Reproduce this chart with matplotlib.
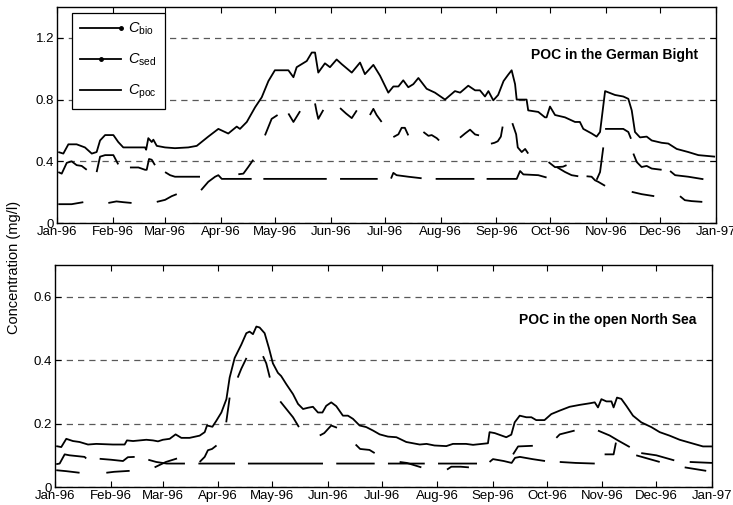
import numpy as np
import matplotlib
matplotlib.use("Agg")
import matplotlib.pyplot as plt
import matplotlib.dates as mdates
from matplotlib.lines import Line2D

plt.rcParams['font.family'] = ['Liberation Sans', 'DejaVu Sans']
plt.rcParams['mathtext.fontset'] = 'custom'
plt.rcParams['mathtext.rm'] = 'Liberation Sans'
plt.rcParams['mathtext.it'] = 'Liberation Sans:italic'

nan = np.nan

# ---- German Bight (day of 1996, mg/l); nan splits the drawn pieces ----
gb_poc_day = [0.7, 3.5, 6.3, 10.9, 15.5, 19.3, 22, 23.9, 26.7, 31.3, 34, 36.8,
              48.9, 49.5, 50.7, 52.6, 53.5, 55.4, 60, 65.5, 72.9, 77.6, 84,
              89.6, 95.1, 99.8, 101.6, 105.4, 110, 113.7, 117.4, 121, 128.5,
              131.3, 133.1, 135.9, 138.7, 141.5, 143.3, 145.1, 148.8, 151.6,
              155.3, 158.1, 163.7, 168.3, 171, 175.7, 179.4, 184, 186.8, 189.6,
              192.3, 195.1, 197.9, 200.7, 205.3, 209.9, 215.5, 221, 223.9,
              228.4, 232.2, 234.9, 237.7, 239.6, 242.3, 245, 248, 250.5, 252.5,
              254.4, 255.3, 260.8, 261.7, 267.3, 271, 271.9, 273.8, 276.6,
              282.1, 287.7, 290.4, 292.3, 297, 299.7, 301.6, 304.4, 309.9,
              314.5, 317.3, 319.2, 321, 323.8, 327.5, 330.3, 335.8, 339.5,
              344.2, 350.6, 356.2, 365.5]
gb_poc = [0.46, 0.45, 0.51, 0.51, 0.49, 0.45, 0.46, 0.535, 0.57, 0.57, 0.525,
          0.49, 0.49, 0.475, 0.55, 0.525, 0.54, 0.50, 0.49, 0.485, 0.49, 0.50,
          0.56, 0.61, 0.58, 0.625, 0.61, 0.655, 0.75, 0.815, 0.92, 0.99, 0.99,
          0.945, 1.01, 1.03, 1.05, 1.105, 1.105, 0.975, 1.035, 1.01, 1.06,
          1.03, 0.975, 1.04, 0.965, 1.025, 0.955, 0.845, 0.885, 0.885, 0.925,
          0.88, 0.90, 0.94, 0.87, 0.845, 0.80, 0.855, 0.845, 0.89, 0.86, 0.86,
          0.82, 0.855, 0.795, 0.83, 0.92, 0.96, 0.99, 0.90, 0.80, 0.80, 0.73,
          0.72, 0.685, 0.685, 0.755, 0.70, 0.685, 0.655, 0.655, 0.61, 0.58,
          0.56, 0.59, 0.855, 0.83, 0.82, 0.805, 0.73, 0.59, 0.555, 0.56,
          0.535, 0.52, 0.515, 0.48, 0.46, 0.44, 0.43]

gb_bio_day = [0.7, 2.6, 5.4, 8.1, 10.9, 13.7, 16.5, nan,
              22, 23.9, 26.7, 31.3, 34, nan,
              40.5, 45.2, 48.9, 49.8, 51.1, 52.6, 54.4, nan,
              60, 62.8, 65.5, 79.4, nan,
              100.7, 103.5, 106.2, 109, nan,
              115.5, 119.2, 122.5, nan,
              128.5, 131.3, 135, nan,
              143.3, 144.2, 145.1, 147.9, nan,
              157.2, 160.5, 163.7, 166.5, nan,
              173.8, 175.7, 177.5, 180.3, nan,
              186.8, 189.6, 191.4, 193.2, 195.1, nan,
              203.5, 206.3, 208.1, 210.9, 212.2, nan,
              223.8, 226.6, 229.4, 232.2, 234.4, nan,
              241, 243, 244.8, 246.5, 247.5, nan,
              252.9, 255, 255.9, 258.1, 260, 261.7, nan,
              277.5, 282.1, 285.8, 289.5, nan,
              294.1, 296.9, 298.8, 300.6, 304.4, nan,
              319.2, 324.7, 331.7, nan,
              346, 348.7, 352.4, 358.4]
gb_bio = [0.33, 0.32, 0.39, 0.40, 0.375, 0.37, 0.345, nan,
          0.33, 0.43, 0.44, 0.44, 0.38, nan,
          0.36, 0.36, 0.345, 0.345, 0.415, 0.41, 0.375, nan,
          0.33, 0.31, 0.30, 0.30, nan,
          0.316, 0.32, 0.363, 0.41, nan,
          0.568, 0.675, 0.70, nan,
          0.71, 0.655, 0.725, nan,
          0.775, 0.72, 0.675, 0.733, nan,
          0.745, 0.71, 0.68, 0.73, nan,
          0.70, 0.74, 0.70, 0.655, nan,
          0.557, 0.575, 0.617, 0.617, 0.568, nan,
          0.59, 0.565, 0.57, 0.55, 0.535, nan,
          0.553, 0.58, 0.605, 0.574, 0.568, nan,
          0.514, 0.52, 0.53, 0.56, 0.625, nan,
          0.647, 0.575, 0.49, 0.46, 0.48, 0.45, nan,
          0.363, 0.331, 0.31, 0.303, nan,
          0.303, 0.30, 0.277, 0.267, 0.241, nan,
          0.202, 0.187, 0.174, nan,
          0.174, 0.148, 0.142, 0.137]

gb_sed_day = [0.7, 8.1, 14.6, nan,
              28.5, 33, 36.8, 41.4, nan,
              55.4, 60, 63.7, 66.5, nan,
              80, 84, 87.8, 89.6, 91.5, 108.1, nan,
              114.6, 149.8, nan,
              157.2, 178.1, nan,
              185.5, 186.8, 188.6, 195.1, 202.5, nan,
              210.3, 231.8, nan,
              238.6, 255.3, 257.2, 259, 267.3, 271.9, nan,
              273, 276.6, 281, 283, nan,
              299.7, 301.6, 303.4, nan,
              304.4, 314.5, 317.3, 318.8, nan,
              320.1, 322, 324.7, 327.5, 330.3, 335.8, nan,
              340.5, 343.3, 350.6, 359]
gb_sed = [0.122, 0.122, 0.135, nan,
          0.13, 0.14, 0.135, 0.13, nan,
          0.137, 0.15, 0.174, 0.187, nan,
          0.213, 0.267, 0.30, 0.31, 0.286, 0.286, nan,
          0.286, 0.286, nan,
          0.286, 0.286, nan,
          0.288, 0.325, 0.31, 0.30, 0.29, nan,
          0.286, 0.286, nan,
          0.286, 0.286, 0.337, 0.315, 0.31, 0.295, nan,
          0.395, 0.362, 0.365, 0.375, nan,
          0.28, 0.33, 0.49, nan,
          0.61, 0.61, 0.59, 0.546, nan,
          0.45, 0.395, 0.363, 0.37, 0.353, 0.345, nan,
          0.337, 0.31, 0.30, 0.284]

# ---- open North Sea ----
ns_poc_day = [0.7, 3.5, 6.3, 10, 13.7, 18.4, 23, 32.3, 38.8, 40.1, 43.5, 50.9,
              54.6, 57.4, 60.1, 63.9, 67.2, 70.4, 75, 80.6, 83.4, 84.7, 87.7,
              89.9, 92.7, 95.5, 97.3, 100.1, 103.8, 106.6, 108.4, 110.3, 112.2,
              114, 116.8, 119.2, 121.4, 124.2, 126, 128.9, 132.6, 135.4, 138.2,
              141, 143.7, 146.5, 149, 151.1, 153.9, 156.7, 160.4, 163.2, 166,
              169.7, 173.4, 177.2, 180.9, 185.5, 190.2, 195.7, 203.2, 207,
              211.4, 218, 221.7, 229, 232.9, 241.2, 242.1, 245, 251.4, 254.2,
              256.1, 258.9, 262.6, 265.4, 268.1, 272.7, 276.5, 281.2, 286.7,
              292.3, 297.9, 300.7, 302.5, 304.4, 307.2, 310, 311.2, 313.1,
              315.5, 318.3, 322, 326.6, 332.2, 336.9, 342.4, 348, 355.4, 361,
              366]
ns_poc = [0.129, 0.126, 0.152, 0.145, 0.142, 0.134, 0.136, 0.134, 0.134, 0.147,
          0.145, 0.149, 0.147, 0.144, 0.149, 0.152, 0.166, 0.155, 0.155, 0.162,
          0.173, 0.194, 0.19, 0.209, 0.235, 0.277, 0.345, 0.407, 0.449, 0.485,
          0.49, 0.482, 0.506, 0.503, 0.485, 0.438, 0.39, 0.36, 0.35, 0.324,
          0.293, 0.262, 0.246, 0.25, 0.253, 0.235, 0.235, 0.256, 0.267, 0.255,
          0.225, 0.225, 0.215, 0.194, 0.189, 0.178, 0.166, 0.159, 0.157, 0.142,
          0.134, 0.136, 0.131, 0.129, 0.136, 0.136, 0.133, 0.138, 0.173, 0.17,
          0.157, 0.165, 0.204, 0.225, 0.22, 0.22, 0.211, 0.211, 0.23, 0.241,
          0.253, 0.259, 0.264, 0.267, 0.251, 0.277, 0.27, 0.27, 0.251, 0.282,
          0.278, 0.256, 0.225, 0.204, 0.189, 0.173, 0.162, 0.149, 0.137, 0.128,
          0.128]

ns_bio_day = [0.7, 2.6, 5.4, 8.1, 16.5, 17.4, nan,
              24.9, 31.3, 37.9, 40.6, 44.4, nan,
              55.5, 61.8, 68, nan,
              80.6, 83.4, 85.2, 87.5, 90, nan,
              95.4, 97.3, nan,
              101.8, 103.8, 106.7, nan,
              115.9, 117.7, 119.7, nan,
              125.5, 128.9, 132.6, 135.9, nan,
              147.5, 150, 153.9, 157.1, nan,
              167.5, 170, 175.2, 178.1, nan,
              192, 196, 204.1, nan,
              218.4, 220.8, 226, 230.6, nan,
              255.2, 258, 266.2, nan,
              279.3, 281.2, 289.5, nan,
              302.5, 309, 313.6, 320.2, nan,
              323.8, 336.9, nan,
              350.8, 362.8]
ns_bio = [0.072, 0.074, 0.103, 0.10, 0.095, 0.09, nan,
          0.089, 0.086, 0.082, 0.094, 0.095, nan,
          0.062, 0.079, 0.09, nan,
          0.079, 0.095, 0.116, 0.12, 0.131, nan,
          0.204, 0.282, nan,
          0.345, 0.373, 0.407, nan,
          0.4125, 0.39, 0.345, nan,
          0.27, 0.246, 0.22, 0.189, nan,
          0.1625, 0.17, 0.194, 0.187, nan,
          0.134, 0.12, 0.117, 0.107, nan,
          0.079, 0.076, 0.062, nan,
          0.055, 0.064, 0.064, 0.062, nan,
          0.103, 0.128, 0.13, nan,
          0.155, 0.166, 0.178, nan,
          0.178, 0.1625, 0.147, 0.126, nan,
          0.10, 0.079, nan,
          0.062, 0.051]

ns_sed_day = [0.7, 6.3, 13.7, nan,
              28.6, 33, 41.6, nan,
              52, 56.4, 62.2, 72.4, nan,
              79.9, 100.3, nan,
              107.5, 149.3, nan,
              156.7, 178.1, nan,
              185.5, 206, nan,
              213.4, 235.1, nan,
              242.1, 244, 250, 254.4, 256.3, 259, 266, 273, nan,
              281.2, 290, 300.7, nan,
              306.2, 311.2, 312.5, nan,
              326.6, 335, 345, nan,
              353.6, 366]
ns_sed = [0.053, 0.05, 0.045, nan,
          0.045, 0.048, 0.051, nan,
          0.086, 0.079, 0.074, 0.074, nan,
          0.074, 0.074, nan,
          0.074, 0.074, nan,
          0.074, 0.074, nan,
          0.074, 0.074, nan,
          0.074, 0.074, nan,
          0.079, 0.088, 0.082, 0.076, 0.092, 0.095, 0.088, 0.082, nan,
          0.079, 0.076, 0.074, nan,
          0.103, 0.103, 0.14, nan,
          0.107, 0.10, 0.084, nan,
          0.079, 0.076]

t0 = mdates.date2num(np.datetime64('1996-01-01'))


def dates(days):
    return t0 + np.asarray(days, dtype=float)


def style_axes(ax, ymax, yticks, ylabels):
    ax.set_xlim(t0, t0 + 366)
    ax.set_ylim(0, ymax)
    ax.xaxis.set_major_locator(mdates.MonthLocator())
    ax.xaxis.set_major_formatter(mdates.DateFormatter('%b-%y'))
    ax.set_yticks(yticks)
    ax.set_yticklabels(ylabels)
    ax.tick_params(direction='in', top=True, right=True, length=4,
                   width=0.8, labelsize=9.5, pad=2)
    ax.yaxis.grid(True, color='0.35', linestyle=(0, (5, 4)), linewidth=0.9)
    for s in ax.spines.values():
        s.set_linewidth(1.0)


fig = plt.figure(figsize=(7.33, 5.05), dpi=100)
ax1 = fig.add_axes([0.0778, 0.5584, 0.8990, 0.4277])
ax2 = fig.add_axes([0.075, 0.0356, 0.8963, 0.4396])

lw = 1.3
for ax, series in ((ax1, [(gb_poc_day, gb_poc), (gb_bio_day, gb_bio), (gb_sed_day, gb_sed)]),
                   (ax2, [(ns_poc_day, ns_poc), (ns_bio_day, ns_bio), (ns_sed_day, ns_sed)])):
    for d, v in series:
        ax.plot(dates(d), v, color='k', lw=lw, solid_capstyle='butt')

style_axes(ax1, 1.4, [0, 0.4, 0.8, 1.2], ['0', '0.4', '0.8', '1.2'])
style_axes(ax2, 0.7, [0, 0.2, 0.4, 0.6], ['0', '0.2', '0.4', '0.6'])

ax1.text(0.973, 0.778, 'POC in the German Bight', transform=ax1.transAxes,
         ha='right', va='center', fontsize=10, fontweight='bold')
ax2.text(0.976, 0.752, 'POC in the open North Sea', transform=ax2.transAxes,
         ha='right', va='center', fontsize=10, fontweight='bold')

handles = [Line2D([], [], color='k', lw=lw, marker='.', ms=5),
           Line2D([], [], color='k', lw=lw, marker='.', ms=5),
           Line2D([], [], color='k', lw=lw)]
leg = ax1.legend(handles, [r'$C_\mathrm{bio}$', r'$C_\mathrm{sed}$', r'$C_\mathrm{poc}$'],
                 loc='upper left', bbox_to_anchor=(0.023, 0.972), borderaxespad=0,
                 numpoints=1, fancybox=False, edgecolor='k', framealpha=1,
                 fontsize=10.5, handlelength=2.8, labelspacing=1.0,
                 handletextpad=0.5, borderpad=0.55)
leg.get_frame().set_linewidth(0.9)
# legend samples are 3-point lines: put the C_bio dot on the right end
leg.get_lines()[0].set_markevery([2])

fig.text(0.019, 0.47, 'Concentration (mg/l)', rotation=90, ha='center',
         va='center', fontsize=10.5)

fig.savefig('out.png', dpi=100)
